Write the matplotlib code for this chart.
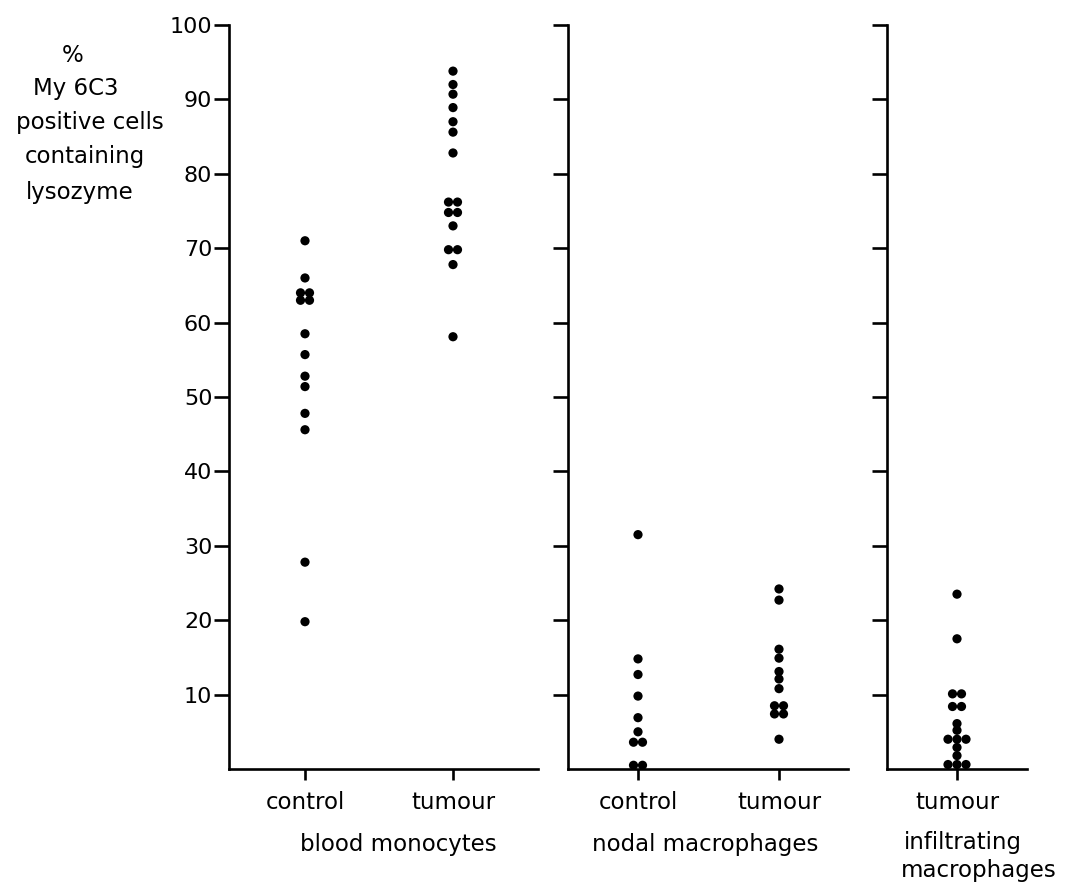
import matplotlib
matplotlib.use("Agg")
import matplotlib.pyplot as plt
import numpy as np

plt.rcParams['font.family'] = ['DejaVu Sans']

# % My 6C3 positive cells containing lysozyme, one list per group
blood_control = [71, 66, 64, 64, 63, 63, 58.5, 55.7, 52.8, 51.4, 47.8, 45.6, 27.8, 19.8]
blood_tumour = [93.8, 92, 90.7, 88.9, 87, 85.6, 82.8, 76.2, 76.2, 74.8, 74.8, 73,
                69.8, 69.8, 67.8, 58.1]
nodal_control = [31.5, 14.8, 12.7, 9.8, 6.9, 5.0, 3.6, 3.6, 0.5, 0.5]
nodal_tumour = [24.2, 22.7, 16.1, 14.9, 13.1, 12.1, 10.8, 8.5, 8.5, 7.4, 7.4, 4.0]
infiltrating = [23.5, 17.5, 10.1, 10.1, 8.4, 8.4, 6.1, 5.2, 4.0, 4.0, 4.0, 2.9, 1.8,
                0.6, 0.6, 0.6]

yticks = [10, 20, 30, 40, 50, 60, 70, 80, 90, 100]
ylabel_lines = ['%', 'My 6C3', 'positive cells', 'containing', 'lysozyme']

W, H = 1091, 886
fig = plt.figure(figsize=(W / 100, H / 100), dpi=100)

TOP, BOT = 25, 769
LW = 1.9
FS = 16.5


def make_panel(left, right, px_per_unit, first_x, ticklabels):
    ax = fig.add_axes([left / W, 1 - BOT / H, (right - left) / W, (BOT - TOP) / H])
    x0 = -(first_x - left) / px_per_unit
    x1 = (right - first_x) / px_per_unit
    ax.set_xlim(x0, x1)
    ax.set_ylim(0, 100)
    for s in ['top', 'right']:
        ax.spines[s].set_visible(False)
    for s in ['left', 'bottom']:
        ax.spines[s].set_linewidth(LW)
    ax.set_yticks(yticks)
    ax.tick_params(axis='y', direction='out', length=11, width=LW, labelsize=16, pad=1)
    ax.tick_params(axis='x', direction='out', length=8, width=LW, labelsize=FS, pad=8)
    ax.set_xticks(range(len(ticklabels)))
    ax.set_xticklabels(ticklabels)
    ax.patch.set_alpha(0)
    return ax


def dots(ax, xpos, values, px_per_unit, gap=9):
    # put equal values side by side
    values = np.array(values)
    xs = np.zeros(len(values))
    for v in np.unique(values):
        idx = np.where(values == v)[0]
        n = len(idx)
        xs[idx] = xpos + (np.arange(n) - (n - 1) / 2) * gap / px_per_unit
    ax.scatter(xs, values, s=44, color='black', edgecolors='none', clip_on=False, zorder=5)


# blood monocytes
u1 = 148
ax1 = make_panel(229, 538, u1, 305, ['control', 'tumour'])
dots(ax1, 0, blood_control, u1)
dots(ax1, 1, blood_tumour, u1)

# nodal macrophages
u2 = 141
ax2 = make_panel(568, 848, u2, 638, ['control', 'tumour'])
ax2.set_yticklabels([])
dots(ax2, 0, nodal_control, u2)
dots(ax2, 1, nodal_tumour, u2)

# tumour infiltrating macrophages
u3 = 141
ax3 = make_panel(887, 1027, u3, 957, ['tumour'])
ax3.set_yticklabels([])
dots(ax3, 0, infiltrating, u3)

# group names under the axes
fig.text(398 / W, 1 - 845 / H, 'blood monocytes', ha='center', va='center', fontsize=FS)
fig.text(705 / W, 1 - 845 / H, 'nodal macrophages', ha='center', va='center', fontsize=FS)
fig.text(963 / W, 1 - 843 / H, 'infiltrating', ha='center', va='center', fontsize=FS)
fig.text(979 / W, 1 - 871 / H, 'macrophages', ha='center', va='center', fontsize=FS)

# y axis title, one line at a time
xs_lab = [73, 76, 90, 85, 80]
ys_lab = [55, 88, 122, 157, 192]
for line, xx, yy in zip(ylabel_lines, xs_lab, ys_lab):
    fig.text(xx / W, 1 - yy / H, line, ha='center', va='center', fontsize=16.5)

fig.savefig('out.png', dpi=100)
